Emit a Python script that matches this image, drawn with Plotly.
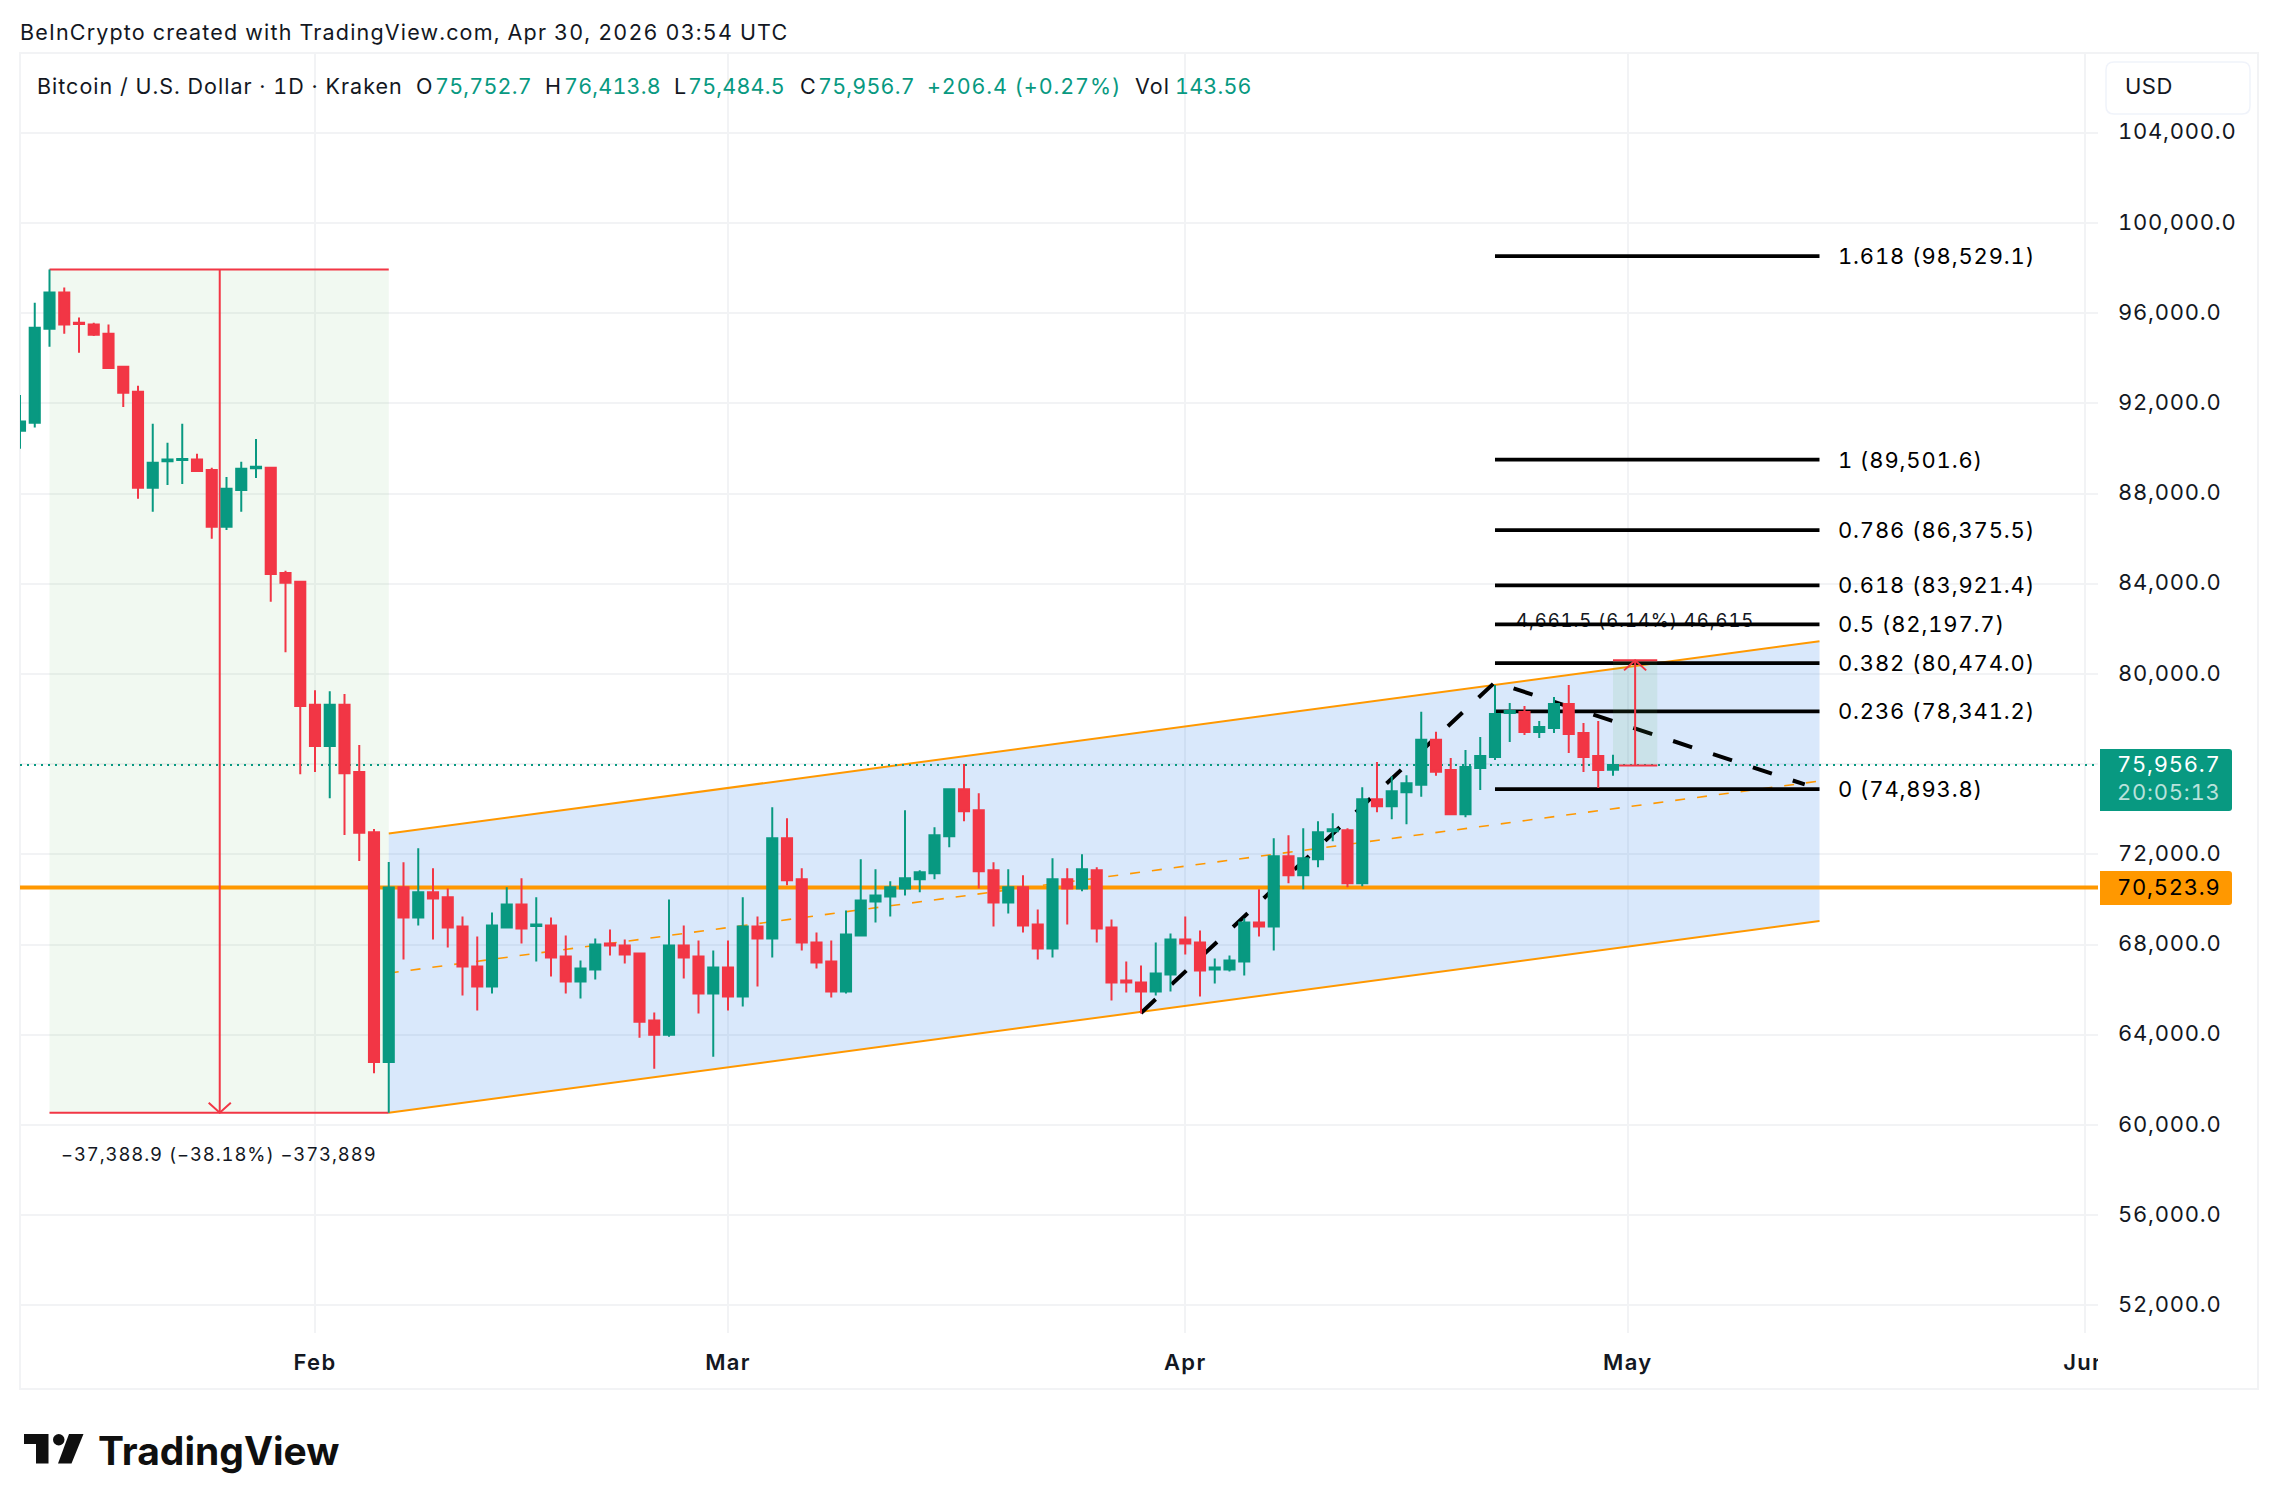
import pandas as pd
import plotly.graph_objects as go

# daily candles
start_day = "2026-01-12"
opens = [90779, 91140, 95302, 96914, 95567, 95495, 95086, 93618, 92511, 88253, 89432, 89480, 89504, 89047, 86520, 88157, 89119, 89143, 84475, 84090,
         78629, 76800, 78629, 75645, 72975, 62790, 70534, 69201, 70312, 70090, 68801, 67024, 66135, 68757, 69779, 68816, 68846, 67468, 66357, 66891, 68046, 67957, 67601, 64625, 64003, 67957, 67468, 65824,
         66979, 65691, 68801, 68268, 72711, 70889, 68090, 67246, 65913, 68401, 69912, 70134, 70489, 70889, 71156, 72800, 74888, 73955, 71289, 69867, 70534, 68890, 67824, 70889, 70489, 71289, 68757, 66402, 66313, 65913, 66668,
         68223, 68090, 66890, 66890, 67246, 68979, 68801, 71911, 71067, 71778, 73022, 73066, 70712, 74444, 74133, 74755, 75082, 77078, 75735, 73780, 75824, 76312, 78267, 78312, 77423, 77601, 78667, 77379, 76357, 75752.7]
highs = [92367, 96457, 97930, 97131, 95808, 95567, 95495, 93618, 92776, 91092, 90250, 91092, 89768, 89143, 88734, 89408, 90418, 89191, 84571, 84090,
         79278, 79230, 79110, 76848, 73119, 71660, 71645, 72267, 71378, 70489, 69245, 68357, 69423, 70534, 70934, 70090, 69201, 68401, 67290, 68268, 68668, 68223, 67646, 64980, 70001, 68846, 68179, 67735,
         68179, 70090, 69245, 74088, 73599, 71378, 68534, 68179, 69512, 71778, 71334, 70800, 73955, 71289, 73200, 74888, 75999, 74710, 71645, 71334, 71067, 69556, 71822, 71378, 72000, 71422, 69112, 67246, 67068, 68090, 68490,
         69245, 68623, 67379, 67512, 69156, 70445, 72711, 72844, 73155, 73466, 73822, 73155, 74977, 76088, 75466, 75510, 78321, 77433, 76268, 76623, 77201, 79511, 78712, 78578, 77912, 78978, 79511, 77823, 77912, 76413.8]
lows = [89985, 90923, 94508, 95086, 94244, 94989, 93522, 91838, 87771, 87194, 88373, 88421, 88999, 85991, 86376, 87194, 88686, 83200, 80963, 75549,
        75645, 74490, 72854, 71699, 62292, 60541, 67335, 68846, 68223, 67868, 65735, 65069, 65824, 68712, 68046, 67246, 66580, 65824, 65602, 66446, 67513, 67157, 63869, 62492, 63914, 66491, 64936, 63025,
        65069, 65247, 66135, 67424, 70623, 67735, 66935, 65647, 65824, 68401, 68979, 69245, 70178, 70312, 70889, 72311, 73466, 70489, 68801, 69379, 68534, 67335, 67424, 68890, 70356, 68090, 65513, 65869, 64936, 65735, 65913,
        67557, 65691, 66268, 66802, 66624, 68357, 67735, 70712, 70445, 71422, 72578, 70534, 70578, 73866, 73555, 73333, 74549, 75481, 73780, 73646, 74846, 76179, 76979, 77290, 77157, 77379, 76490, 75646, 74935, 75484.5]
closes = [91188, 95350, 96914, 95495, 95519, 95038, 93570, 92463, 88253, 89359, 89504, 89528, 88999, 86520, 88205, 89095, 89191, 84427, 84042, 78580,
          76800, 78629, 75597, 72951, 62790, 70524, 69201, 70312, 70045, 68757, 67024, 66135, 68846, 69779, 68712, 68890, 67424, 66357, 66935, 68001, 67957, 67557, 64580, 64003, 67957, 67424, 65824, 66979,
          65691, 68801, 68268, 72711, 70845, 68090, 67202, 65913, 68446, 69956, 70178, 70534, 70934, 71200, 72844, 74888, 73910, 71245, 69867, 70534, 68846, 67824, 70889, 70489, 71334, 68712, 66313, 66313, 65913, 66713, 68223,
          68046, 66846, 66980, 67290, 68979, 68801, 71911, 71067, 71822, 72977, 73111, 70712, 74444, 74133, 74799, 75155, 77078, 75658, 73780, 75868, 76357, 78223, 78356, 77423, 77645, 78667, 77334, 76312, 75735, 75956.7]

# fibonacci tool
fib_ratios = ["1.618", "1", "0.786", "0.618", "0.5", "0.382", "0.236", "0"]
fib_levels = [98529.1, 89501.6, 86375.5, 83921.4, 82197.7, 80474.0, 78341.2, 74893.8]
fib_days = ["2026-04-22", "2026-05-14"]

# parallel channel
channel_days = ["2026-02-06", "2026-05-14"]
channel_top = [72918, 81451]
channel_mid = [66730, 75249]
channel_bottom = [60541, 69047]

# dashed projection
zigzag_days = ["2026-03-29", "2026-04-22", "2026-05-13"]
zigzag_vals = [64965, 79630, 75098]

# price range tools
drop_days = ["2026-01-14", "2026-02-06"]
drop_arrow_day = "2026-01-25 13:00"
drop_top, drop_bottom = 97930, 60541.1
drop_head_days = ["2026-01-24 19:00", "2026-01-25 13:00", "2026-01-26 07:00"]
drop_head_vals = [60985, 60541.1, 60985]
rise_days = ["2026-04-30", "2026-05-03"]
rise_arrow_day = "2026-05-01 12:00"
rise_top, rise_bottom = 80600, 75938.5
rise_head_days = ["2026-04-30 18:00", "2026-05-01 12:00", "2026-05-02 06:00"]
rise_head_vals = [80156, 80600, 80156]

support = 70523.9
last_price = 75956.7

y_ticks = list(range(52000, 108000, 4000))
month_ticks = ["2026-02-01", "2026-03-01", "2026-04-01", "2026-05-01", "2026-06-01"]
month_labels = ["Feb", "Mar", "Apr", "May", "Jun"]

GREEN = "#089981"
RED = "#F23645"
ORANGE = "#FF9800"
INK = "#131722"
GRID = "#F2F3F5"
FONT = "Inter"

# plot area in page pixels
L, R, T, B = 20, 2098, 53, 1333


def px(x):
    return (x - L) / (R - L)


def py(y):
    return (B - y) / (B - T)


def spaced(text, gap):
    # tradingview sets its text with tabular digits and more tracking than plain Inter
    return f'<span style="letter-spacing:{gap}px;font-variant-numeric:tabular-nums">{text}</span>'


def rect(x0, y0, x1, y1, **kw):
    return dict(type="rect", xref="paper", yref="paper", x0=px(x0), x1=px(x1), y0=py(y0), y1=py(y1), **kw)


def label(x, y, text, size=22, color=INK, anchor="left", weight=None, gap=0.2):
    return dict(xref="paper", yref="paper", x=px(x), y=py(y), text=spaced(text, gap), showarrow=False, xanchor=anchor, yanchor="middle",
                font=dict(family=FONT, size=size, color=color, weight=weight), borderpad=0, borderwidth=0)


days = pd.date_range(start_day, periods=len(opens), freq="D")
x_range = ["2026-01-12 00:00", "2026-06-01 21:10"]
y_range = [50772, 107534]

fig = go.Figure()


def line(x, y, color, width, dash="solid"):
    fig.add_trace(go.Scatter(x=x, y=y, mode="lines", line=dict(color=color, width=width, dash=dash), hoverinfo="skip"))


def area(x, y, color):
    fig.add_trace(go.Scatter(x=x, y=y, mode="none", fill="toself", fillcolor=color, hoverinfo="skip"))


area([drop_days[0], drop_days[1], drop_days[1], drop_days[0]], [drop_top, drop_top, drop_bottom, drop_bottom], "rgba(76,175,80,0.08)")
area([channel_days[0], channel_days[1], channel_days[1], channel_days[0]],
     [channel_top[0], channel_top[1], channel_bottom[1], channel_bottom[0]], "rgba(30,120,230,0.17)")
line(channel_days, channel_top, ORANGE, 2)
line(channel_days, channel_bottom, ORANGE, 2)
line(channel_days, channel_mid, ORANGE, 1.6, "10px,12px")
line(x_range, [support, support], ORANGE, 4)
line(x_range, [last_price, last_price], GREEN, 2, "2px,5px")

fig.add_trace(go.Scatter(x=[rise_arrow_day], y=[82270], mode="text", text=[spaced("4,661.5 (6.14%) 46,615", 0.9)],
                         textfont=dict(family=FONT, size=18.5, color=INK), hoverinfo="skip"))
for ratio, level in zip(fib_ratios, fib_levels):
    line(fib_days, [level, level], "#000000", 3.8)
line(zigzag_days, zigzag_vals, "#000000", 4, "20px,22px")

line(drop_days, [drop_top, drop_top], RED, 2)
line(drop_days, [drop_bottom, drop_bottom], RED, 2)
line([drop_arrow_day, drop_arrow_day], [drop_top, drop_bottom], RED, 2)
line(drop_head_days, drop_head_vals, RED, 2)

area([rise_days[0], rise_days[1], rise_days[1], rise_days[0]], [rise_top, rise_top, rise_bottom, rise_bottom], "rgba(76,175,80,0.1)")
line(rise_days, [rise_top, rise_top], RED, 2)
line(rise_days, [rise_bottom, rise_bottom], RED, 2)
line([rise_arrow_day, rise_arrow_day], [rise_bottom, rise_top], RED, 2)
line(rise_head_days, rise_head_vals, RED, 2)

# candles sit on an overlaying axis pair so they stay on top of the drawings
fig.add_trace(go.Candlestick(x=days, open=opens, high=highs, low=lows, close=closes, xaxis="x2", yaxis="y2",
                             increasing=dict(line=dict(color=GREEN, width=2), fillcolor=GREEN),
                             decreasing=dict(line=dict(color=RED, width=2), fillcolor=RED),
                             whiskerwidth=0, hoverinfo="skip"))

shapes = [
    rect(L, T, 2258, 1389, line=dict(color=GRID, width=2), fillcolor="rgba(0,0,0,0)", layer="below"),
    # hides the cut off part of the last month label
    rect(R, B + 2, 2256, 1387, line=dict(width=0), fillcolor="#FFFFFF", layer="above"),
    dict(type="path", xref="paper", yref="paper", layer="above", line=dict(color="#F0F3FA", width=1.5),
         path=f"M {px(2114)} {py(62)} L {px(2242)} {py(62)} Q {px(2250)} {py(62)} {px(2250)} {py(70)} L {px(2250)} {py(106)} Q {px(2250)} {py(114)} {px(2242)} {py(114)} "
              f"L {px(2114)} {py(114)} Q {px(2106)} {py(114)} {px(2106)} {py(106)} L {px(2106)} {py(70)} Q {px(2106)} {py(62)} {px(2114)} {py(62)} Z"),
    dict(type="path", xref="paper", yref="paper", layer="above", fillcolor=GREEN, line=dict(width=0),
         path=f"M {px(2100)} {py(749)} L {px(2229)} {py(749)} Q {px(2232)} {py(749)} {px(2232)} {py(752)} L {px(2232)} {py(808)} Q {px(2232)} {py(811)} {px(2229)} {py(811)} L {px(2100)} {py(811)} Z"),
    dict(type="path", xref="paper", yref="paper", layer="above", fillcolor=ORANGE, line=dict(width=0),
         path=f"M {px(2100)} {py(871)} L {px(2229)} {py(871)} Q {px(2232)} {py(871)} {px(2232)} {py(874)} L {px(2232)} {py(902)} Q {px(2232)} {py(905)} {px(2229)} {py(905)} L {px(2100)} {py(905)} Z"),
    # logo mark
    dict(type="path", xref="paper", yref="paper", layer="above", fillcolor="#0F0F0F", line=dict(width=0),
         path=f"M {px(24)} {py(1434)} L {px(48.5)} {py(1434)} L {px(48.5)} {py(1463.5)} L {px(36)} {py(1463.5)} L {px(36)} {py(1444)} L {px(24)} {py(1444)} Z"),
    dict(type="path", xref="paper", yref="paper", layer="above", fillcolor="#0F0F0F", line=dict(width=0),
         path=f"M {px(69)} {py(1434)} L {px(83.5)} {py(1434)} L {px(71.5)} {py(1463.5)} L {px(58)} {py(1463.5)} Z"),
    dict(type="circle", xref="paper", yref="paper", layer="above", fillcolor="#0F0F0F", line=dict(width=0),
         x0=px(53), x1=px(64.5), y0=py(1434), y1=py(1445.5)),
]

annotations = [
    label(20, 32, "BeInCrypto created with TradingView.com, Apr 30, 2026 03:54 UTC", size=21.5, gap=1.17),
    label(36.5, 85.5, "Bitcoin / U.S. Dollar · 1D · Kraken", size=21.5, gap=1.0),
    label(416, 85.5, "O", size=21.5), label(435, 85.5, "75,752.7", size=21.5, color=GREEN),
    label(545, 85.5, "H", size=21.5), label(564, 85.5, "76,413.8", size=21.5, color=GREEN),
    label(674, 85.5, "L", size=21.5), label(688, 85.5, "75,484.5", size=21.5, color=GREEN),
    label(800, 85.5, "C", size=21.5), label(818, 85.5, "75,956.7", size=21.5, color=GREEN),
    label(927, 85.5, "+206.4 (+0.27%)", size=21.5, color=GREEN, gap=0.9),
    label(1135, 85.5, "Vol", size=21.5, gap=1.0), label(1175, 85.5, "143.56", size=21.5, color=GREEN),
    label(2125, 85.5, "USD", size=22, gap=0.5),
    label(2117, 764, f"{last_price:,.1f}", size=22, color="#FFFFFF", gap=0.75),
    label(2117, 792, "20:05:13", size=22, color="rgba(255,255,255,0.72)", gap=0.75),
    label(2117, 887, f"{support:,.1f}", size=22, color="#000000", gap=0.75),
    label(219, 1154, "−37,388.9 (−38.18%) −373,889", size=18.5, anchor="center", gap=0.9),
    label(98, 1450, "TradingView", size=39, color="#0F0F0F", weight=700, gap=0),
]
for ratio, level in zip(fib_ratios, fib_levels):
    annotations.append(dict(xref="paper", yref="y", x=px(1836), y=level, text=spaced(f"{ratio} ({level:,.1f})", 0.85), showarrow=False,
                            xanchor="left", yanchor="middle", font=dict(family=FONT, size=22, color="#000000")))

fig.update_layout(
    width=2278, height=1510,
    margin=dict(l=L, r=2278 - R, t=T, b=1510 - B, pad=0),
    paper_bgcolor="#FFFFFF", plot_bgcolor="#FFFFFF",
    showlegend=False, boxgap=0.02, hovermode=False,
    font=dict(family=FONT, color=INK),
    shapes=shapes, annotations=annotations,
    xaxis=dict(type="date", range=x_range, tickmode="array", tickvals=month_ticks, ticktext=[spaced(m, 1.3) for m in month_labels],
               showgrid=True, gridcolor=GRID, gridwidth=2, zeroline=False, showline=False, ticks="", ticklabelstandoff=14,
               tickfont=dict(family=FONT, size=22, color=INK, weight=600), fixedrange=True, rangeslider=dict(visible=False)),
    yaxis=dict(range=y_range, side="right", tickmode="array", tickvals=y_ticks, ticktext=[spaced(f"{v:,.1f}", 0.75) for v in y_ticks],
               showgrid=True, gridcolor=GRID, gridwidth=2, zeroline=False, showline=False, ticks="", ticklabelstandoff=19, ticklabelshift=-1,
               tickfont=dict(family=FONT, size=22, color=INK), fixedrange=True),
    xaxis2=dict(type="date", range=x_range, overlaying="x", visible=False, fixedrange=True, rangeslider=dict(visible=False)),
    yaxis2=dict(range=y_range, overlaying="y", side="right", visible=False, fixedrange=True),
)

fig.write_html("out.html", config=dict(displayModeBar=False),
               post_script="document.body.style.margin='0';window.dispatchEvent(new Event('resize'));")
